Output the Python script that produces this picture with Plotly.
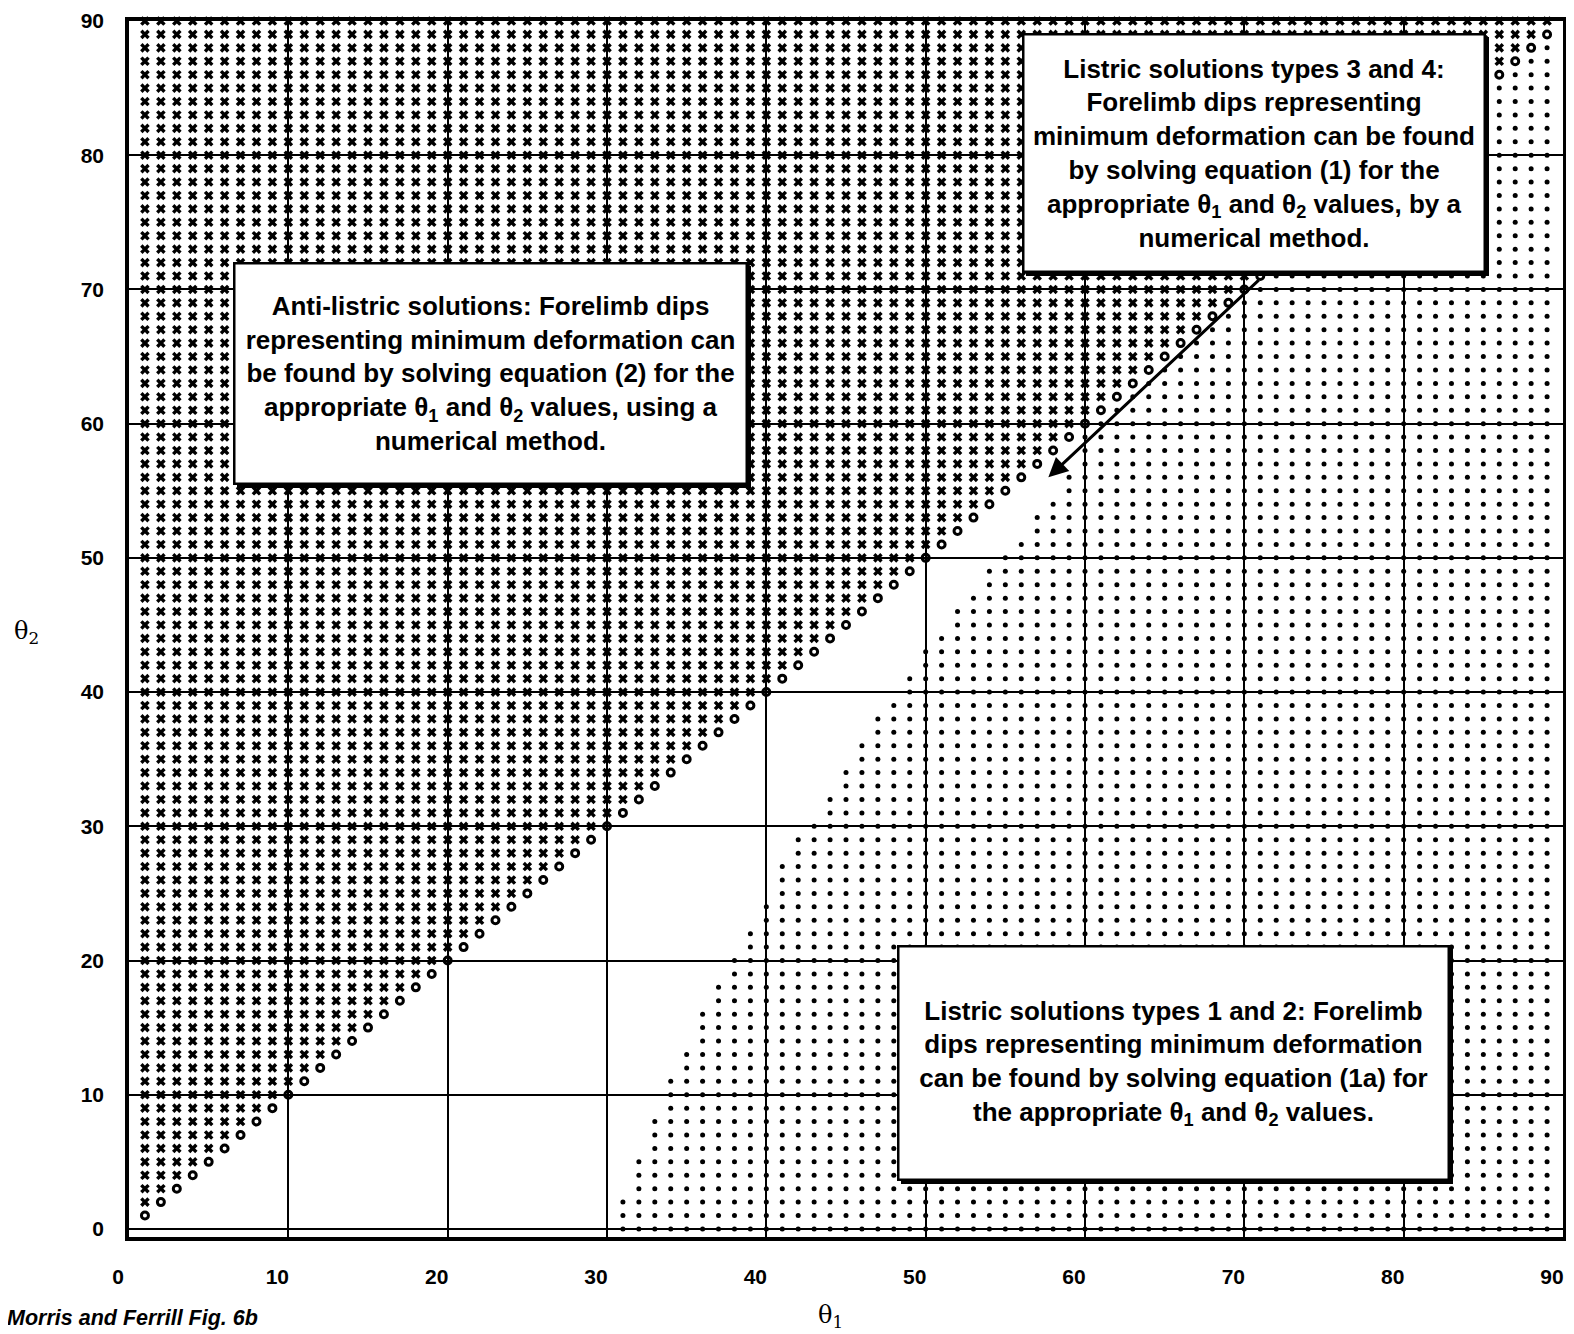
import plotly.graph_objects as go

# ---- data ----
theta1_values = list(range(1, 90))          # θ1 columns (deg)
theta2_values = list(range(0, 91))          # θ2 rows (deg)
# first θ1 at which the "listric" dot field starts, for each θ2 row (0..90)
dot_start = [31, 31, 31, 32, 32, 32, 33, 33, 33, 34,
             34, 34, 35, 35, 36, 36, 36, 37, 37, 38,
             38, 39, 39, 40, 40, 41, 41, 41, 42, 42,
             43, 44, 44, 45, 45, 46, 46, 47, 47, 48,
             49, 49, 50, 50, 51, 52, 52, 53, 54, 54,
             55, 56, 57, 57, 58, 59, 59, 60, 60, 60,
             61, 62, 63, 64, 65, 66, 67, 68, 69, 70,
             71, 72, 73, 74, 75, 76, 77, 78, 79, 80,
             81, 82, 83, 84, 85, 86, 87, 88, 89, 90,
             91]
tick_vals = [0, 10, 20, 30, 40, 50, 60, 70, 80, 90]
tick_text = ["0", "10", "20", "30", "40", "50", "60", "70", "80", "90"]

text_anti = ("Anti-listric solutions: Forelimb dips<br>representing minimum deformation can<br>"
             "be found by solving equation (2) for the<br>appropriate θ<sub>1</sub> and θ<sub>2</sub> values, using a<br>"
             "numerical method.")
text_34 = ("Listric solutions types 3 and 4:<br>Forelimb dips representing<br>minimum deformation can be found<br>"
           "by solving equation (1) for the<br>appropriate θ<sub>1</sub> and θ<sub>2</sub> values, by a<br>numerical method.")
text_12 = ("Listric solutions types 1 and 2: Forelimb<br>dips representing minimum deformation<br>"
           "can be found by solving equation (1a) for<br>the appropriate θ<sub>1</sub> and θ<sub>2</sub> values.")

# ---- classify grid points ----
xs_x, ys_x, xs_o, ys_o, xs_d, ys_d = [], [], [], [], [], []
for t2, start in zip(theta2_values, dot_start):
    for t1 in theta1_values:
        if t1 < t2:
            xs_x.append(t1); ys_x.append(t2)
        elif t1 == t2:
            xs_o.append(t1); ys_o.append(t2)
        elif t1 >= start:
            xs_d.append(t1); ys_d.append(t2)

# page offset of the figure (default body margin of the html page)
OFF = 8
W, H = 1574, 1334
# plot area in page pixels: left 129, right 1563, top 21, bottom 1237
L = 129 - OFF
T = 21 - OFF
R = W - (1563 - OFF)
B = H - (1237 - OFF)

def px(xp):
    return (xp - OFF - L) / (W - L - R)
def py(yp):
    return 1 - (yp - OFF - T) / (H - T - B)

fig = go.Figure()
fig.add_trace(go.Scatter(x=xs_d, y=ys_d, mode="markers", cliponaxis=False,
                         marker=dict(symbol="circle", size=5, color="black")))
fig.add_trace(go.Scatter(x=xs_x, y=ys_x, mode="markers", cliponaxis=False,
                         marker=dict(symbol="x", size=8.5, color="black", line=dict(width=0))))
fig.add_trace(go.Scatter(x=xs_o, y=ys_o, mode="markers", cliponaxis=False,
                         marker=dict(symbol="circle-open", size=7, color="black", line=dict(width=3, color="black"))))

bold_font = dict(family="Liberation Sans, Arial, sans-serif", size=26, color="black", weight="bold")

shapes = []
def box(text, x0, y0, x1, y1):
    shapes.append(dict(type="rect", xref="paper", yref="paper", layer="above",
                       x0=px(x0 + 4), x1=px(x1 + 3), y0=py(y1 + 3), y1=py(y0 + 4),
                       fillcolor="black", line=dict(width=0)))
    fig.add_annotation(xref="paper", yref="paper", x=px((x0 + x1) / 2), y=py((y0 + y1) / 2),
                       xanchor="center", yanchor="middle", showarrow=False,
                       text=text, font=bold_font, align="center",
                       bgcolor="white", bordercolor="black", borderwidth=2.5, borderpad=0,
                       width=(x1 - x0) - 5, height=(y1 - y0) - 5)

# arrow from box 2 to the gap
fig.add_annotation(x=57.7, y=56.0, ax=71.0, ay=70.8, xref="x", yref="y", axref="x", ayref="y",
                   text="", showarrow=True, arrowhead=2, arrowsize=1.3, arrowwidth=3, arrowcolor="black")

box(text_anti, 233, 262, 748, 485)
box(text_34, 1022, 33, 1486, 273)
box(text_12, 897, 945, 1450, 1181)

fig.add_annotation(xref="paper", yref="paper", x=px(26), y=py(632), xanchor="center", yanchor="middle",
                   showarrow=False, text="θ<sub>2</sub>",
                   font=dict(family="DejaVu Serif, serif", size=24, color="black"))
fig.add_annotation(xref="paper", yref="paper", x=px(830), y=py(1316), xanchor="center", yanchor="middle",
                   showarrow=False, text="θ<sub>1</sub>",
                   font=dict(family="DejaVu Serif, serif", size=24, color="black"))
fig.add_annotation(xref="paper", yref="paper", x=px(5), y=py(1318), xanchor="left", yanchor="middle",
                   showarrow=False, text="<i>Morris and Ferrill Fig. 6b</i>",
                   font=dict(family="Liberation Sans, Arial, sans-serif", size=21.5, color="black", weight="bold"))

axis_common = dict(showgrid=True, gridcolor="black", gridwidth=2.2, zeroline=False,
                   showline=True, linecolor="black", linewidth=3.5, mirror=True,
                   tickvals=tick_vals, ticktext=tick_text, ticks="", automargin=False,
                   ticklabeloverflow="allow",
                   tickfont=dict(family="Liberation Sans, Arial, sans-serif", size=21, color="black", weight="bold"))
fig.update_xaxes(range=[0, 90], ticklabelstandoff=18, ticklabelshift=-11, **axis_common)
fig.update_yaxes(range=[-0.6, 90], ticklabelstandoff=17, **axis_common)

fig.update_layout(width=W, height=H, margin=dict(l=L, r=R, t=T, b=B, autoexpand=False),
                  plot_bgcolor="white", paper_bgcolor="white", showlegend=False, shapes=shapes)

fig.write_html("out.html")
